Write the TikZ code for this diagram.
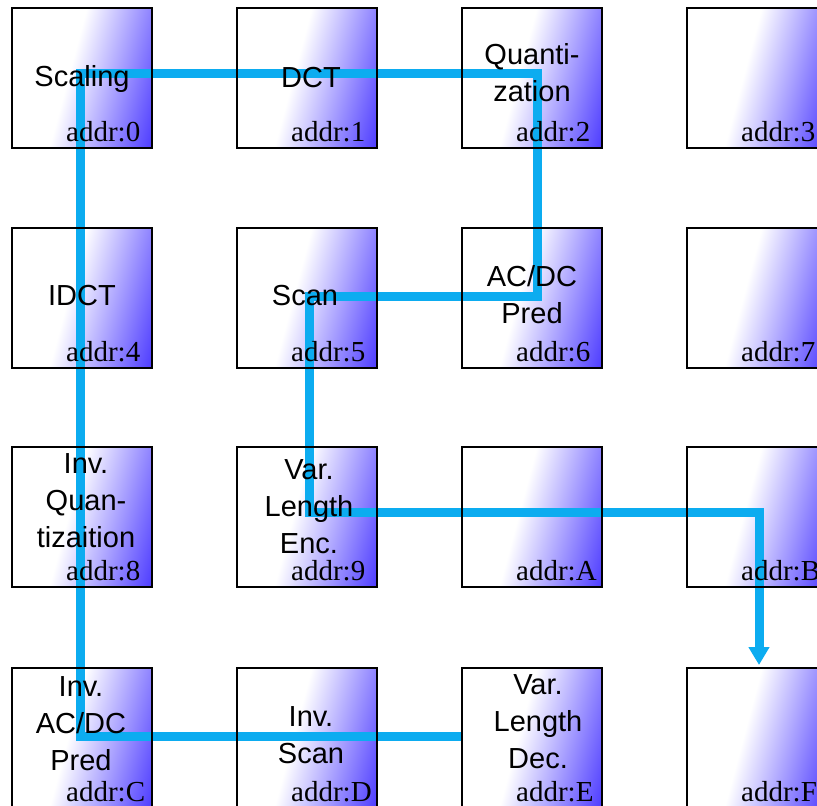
\documentclass[tikz,border=0pt]{standalone}
\usepackage{fontspec}
\setmainfont{Liberation Serif}
\newfontfamily\labelsans{Liberation Sans}
\usetikzlibrary{arrows.meta,calc}

\definecolor{cellblue}{RGB}{70,52,255}
\definecolor{flowcyan}{RGB}{12,172,240}

% white over the left part of a cell, fading to blue towards the lower right
\pgfdeclarehorizontalshading{cellshade}{100bp}{%
  color(0bp)=(white); color(45bp)=(white); color(82bp)=(cellblue); color(100bp)=(cellblue)}

\begin{document}
\begin{tikzpicture}[x=1pt,y=-1pt,
  cell/.style={shade, shading=cellshade, shading angle=-15,
    minimum width=140, minimum height=140, inner sep=0, anchor=north west},
  cellframe/.style={draw=black, line width=2pt},
  celltext/.style={font=\labelsans\fontsize{29}{37}\selectfont, align=center, inner sep=0},
  addr/.style={font=\fontsize{29}{32}\selectfont, inner sep=0, anchor=base west},
  flow/.style={draw=flowcyan, line width=9pt, line join=miter}]

\useasboundingbox (0,0) rectangle (817,806);
\clip (0,0) rectangle (817,806);

% shaded cells, 4 x 4 grid
\node[cell] (b0) at (12,8) {};
\node[cell] (b1) at (237,8) {};
\node[cell] (b2) at (462,8) {};
\node[cell] (b3) at (687,8) {};
\node[cell] (b4) at (12,228) {};
\node[cell] (b5) at (237,228) {};
\node[cell] (b6) at (462,228) {};
\node[cell] (b7) at (687,228) {};
\node[cell] (b8) at (12,447) {};
\node[cell] (b9) at (237,447) {};
\node[cell] (bA) at (462,447) {};
\node[cell] (bB) at (687,447) {};
\node[cell] (bC) at (12,668) {};
\node[cell] (bD) at (237,668) {};
\node[cell] (bE) at (462,668) {};
\node[cell] (bF) at (687,668) {};

% turning points of the processing path
\coordinate (p1) at (80,736);
\coordinate (p2) at (80,73);
\coordinate (p3) at (537,73);
\coordinate (p4) at (537,296);
\coordinate (p5) at (309,296);
\coordinate (p6) at (309,512);
\coordinate (p7) at (759,512);
\coordinate (p8) at (759,665);

\draw[flow, -{Triangle[width=20pt,length=18pt]}]
  (bE.west |- p1) -- (p1) -- (p2) -- (p3) -- (p4) -- (p5) -- (p6) -- (p7) -- (p8);

% cell frames on top of the path
\foreach \c in {0,1,2,3,4,5,6,7,8,9,A,B,C,D,E,F}
  \draw[cellframe] (b\c.north west) rectangle (b\c.south east);

% stage names
\node[celltext] (t0) at (82,79) {Scaling};
\node[celltext] (t1) at (311,78) {DCT};
\node[celltext] (t2) at (532,73) {Quanti-\\zation};
\node[celltext] (t4) at (82,296) {IDCT};
\node[celltext] (t5) at (305,296) {Scan};
\node[celltext] (t6) at (532,295) {AC/DC\\Pred};
\node[celltext] (t8) at (86,501) {Inv.\\Quan-\\tizaition};
\node[celltext] (t9) at (309,507) {Var.\\Length\\Enc.};
\node[celltext] (tC) at (81,724) {Inv.\\AC/DC\\Pred};
\node[celltext] (tD) at (311,735) {Inv.\\Scan};
\node[celltext] (tE) at (538,722) {Var.\\Length\\Dec.};

% cell addresses
\foreach \c in {0,1,2,3,4,5,6,7,8,9,A,B,C,D,E,F}
  \node[addr] (a\c) at ($(b\c.north west)+(54,133)$) {addr:\c};
\end{tikzpicture}
\end{document}
